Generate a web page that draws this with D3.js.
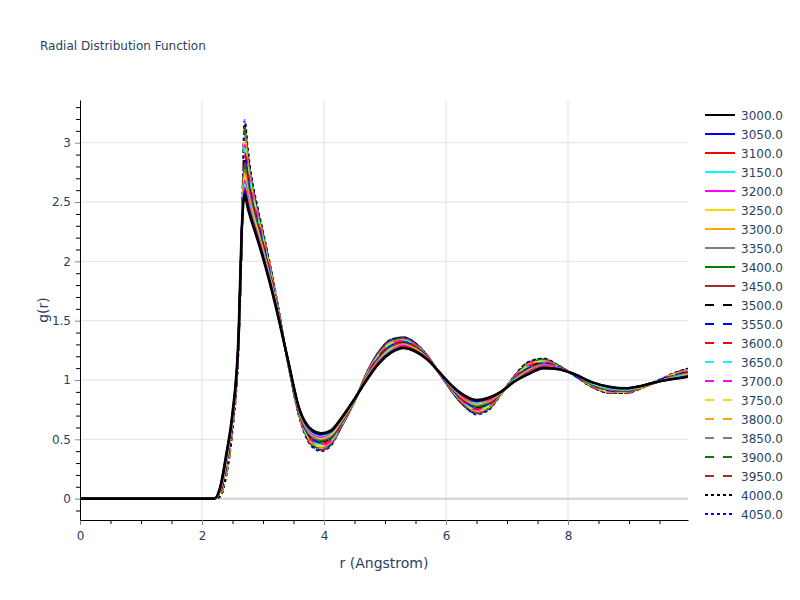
<!DOCTYPE html>
<html>
<head>
<meta charset="utf-8">
<script src="https://cdn.jsdelivr.net/npm/d3@7"></script>
<style>
  body { margin: 0; background: #fff; }
  text { font-family: "DejaVu Sans", verdana, arial, sans-serif; fill: #2a3f5f; }
</style>
</head>
<body>
<svg id="chart" width="800" height="600"></svg>
<script>
// r grid (Angstrom) shared by every curve
const rGrid = [0, 2.2, 2.3, 2.4, 2.5, 2.6, 2.65, 2.7, 2.75, 2.8, 2.9, 3.0, 3.2, 3.4, 3.6, 3.8, 3.95, 4.1, 4.3, 4.5, 4.7, 4.9, 5.1, 5.3, 5.5, 5.7, 5.9, 6.1, 6.3, 6.5, 6.7, 6.9, 7.1, 7.35, 7.6, 7.85, 8.1, 8.4, 8.7, 8.95, 9.2, 9.5, 9.75, 10.0]

const g3000 = [0,0,.10,.38,.72,1.38,2.25,2.56,2.45,2.36,2.20,2.03,1.64,1.19,.75,.58,.55,.57,.69,.84,1.00,1.14,1.23,1.27,1.24,1.17,1.06,.95,.87,.83,.85,.90,.98,1.05,1.10,1.09,1.05,.98,.94,.93,.95,.99,1.01,1.03]
const g3050 = [0,0,.10,.37,.71,1.38,2.25,2.59,2.47,2.38,2.21,2.04,1.65,1.19,.75,.57,.54,.56,.69,.84,1.00,1.14,1.24,1.27,1.24,1.17,1.06,.95,.87,.82,.85,.90,.98,1.05,1.10,1.09,1.05,.98,.94,.93,.95,.99,1.01,1.03]
const g3100 = [0,0,.09,.36,.71,1.37,2.24,2.62,2.50,2.40,2.23,2.05,1.65,1.19,.74,.57,.54,.56,.68,.84,1.01,1.15,1.24,1.28,1.25,1.17,1.06,.95,.86,.82,.84,.90,.98,1.06,1.11,1.09,1.05,.98,.94,.93,.95,.99,1.01,1.04]
const g3150 = [0,0,.09,.35,.70,1.37,2.24,2.65,2.52,2.42,2.24,2.06,1.66,1.19,.74,.56,.53,.55,.68,.84,1.01,1.15,1.25,1.28,1.25,1.17,1.06,.94,.86,.81,.84,.90,.99,1.06,1.11,1.09,1.05,.97,.93,.92,.95,.99,1.02,1.04]
const g3200 = [0,0,.08,.35,.69,1.36,2.23,2.68,2.55,2.43,2.25,2.07,1.66,1.19,.74,.55,.52,.55,.68,.84,1.01,1.16,1.25,1.29,1.25,1.18,1.06,.94,.85,.81,.83,.90,.99,1.07,1.12,1.10,1.05,.97,.93,.92,.95,.99,1.02,1.04]
const g3250 = [0,0,.08,.34,.69,1.36,2.23,2.71,2.57,2.45,2.27,2.08,1.67,1.19,.73,.55,.51,.54,.67,.84,1.01,1.16,1.26,1.29,1.26,1.18,1.06,.94,.85,.80,.83,.90,.99,1.07,1.12,1.10,1.05,.97,.93,.92,.95,.99,1.02,1.05]
const g3300 = [0,0,.08,.33,.68,1.36,2.22,2.74,2.59,2.47,2.28,2.09,1.67,1.18,.73,.54,.51,.53,.67,.83,1.02,1.17,1.26,1.30,1.26,1.18,1.06,.94,.84,.80,.82,.89,.99,1.08,1.12,1.10,1.05,.97,.93,.92,.94,.99,1.02,1.05]
const g3350 = [0,0,.07,.32,.67,1.35,2.22,2.77,2.62,2.49,2.29,2.10,1.68,1.18,.73,.53,.50,.53,.67,.83,1.02,1.17,1.27,1.30,1.26,1.18,1.06,.93,.84,.79,.82,.89,.99,1.08,1.13,1.10,1.05,.97,.92,.92,.94,.99,1.03,1.05]
const g3400 = [0,0,.07,.31,.67,1.35,2.21,2.80,2.64,2.51,2.31,2.11,1.68,1.18,.72,.53,.49,.52,.66,.83,1.02,1.18,1.27,1.30,1.27,1.18,1.06,.93,.84,.78,.81,.89,1.00,1.09,1.13,1.10,1.05,.96,.92,.91,.94,.99,1.03,1.06]
const g3450 = [0,0,.07,.30,.66,1.35,2.21,2.83,2.66,2.53,2.32,2.12,1.69,1.18,.72,.52,.49,.51,.66,.83,1.03,1.18,1.28,1.31,1.27,1.18,1.06,.93,.83,.78,.81,.89,1.00,1.09,1.13,1.10,1.05,.96,.92,.91,.94,.99,1.03,1.06]
const g3500 = [0,0,.06,.29,.65,1.34,2.20,2.86,2.69,2.55,2.33,2.13,1.69,1.18,.72,.51,.48,.51,.66,.83,1.03,1.19,1.28,1.31,1.27,1.18,1.06,.93,.83,.77,.80,.89,1.00,1.10,1.14,1.10,1.05,.96,.92,.91,.94,.99,1.03,1.06]
const g3550 = [0,0,.06,.29,.65,1.34,2.20,2.89,2.71,2.56,2.35,2.15,1.70,1.18,.71,.51,.47,.50,.65,.83,1.03,1.19,1.29,1.32,1.28,1.19,1.05,.92,.82,.77,.80,.89,1.00,1.10,1.14,1.11,1.04,.96,.91,.91,.94,1.00,1.04,1.07]
const g3600 = [0,0,.05,.28,.64,1.33,2.19,2.92,2.74,2.58,2.36,2.16,1.70,1.18,.71,.50,.46,.50,.65,.83,1.03,1.20,1.29,1.32,1.28,1.19,1.05,.92,.82,.76,.79,.89,1.00,1.11,1.15,1.11,1.04,.96,.91,.91,.94,1.00,1.04,1.07]
const g3650 = [0,0,.05,.27,.63,1.33,2.19,2.95,2.76,2.60,2.37,2.17,1.71,1.18,.71,.49,.46,.49,.65,.83,1.04,1.20,1.30,1.33,1.28,1.19,1.05,.92,.81,.76,.79,.89,1.00,1.11,1.15,1.11,1.04,.96,.91,.91,.94,1.00,1.04,1.07]
const g3700 = [0,0,.05,.26,.63,1.33,2.18,2.98,2.78,2.62,2.39,2.18,1.71,1.18,.70,.49,.45,.48,.64,.83,1.04,1.21,1.30,1.33,1.29,1.19,1.05,.92,.81,.75,.78,.89,1.01,1.12,1.15,1.11,1.04,.95,.91,.90,.94,1.00,1.04,1.08]
const g3750 = [0,0,.04,.25,.62,1.32,2.18,3.01,2.81,2.64,2.40,2.19,1.72,1.18,.70,.48,.44,.48,.64,.83,1.04,1.21,1.31,1.33,1.29,1.19,1.05,.91,.81,.74,.78,.89,1.01,1.12,1.16,1.11,1.04,.95,.90,.90,.94,1.00,1.05,1.08]
const g3800 = [0,0,.04,.24,.61,1.32,2.17,3.04,2.83,2.66,2.41,2.20,1.72,1.17,.70,.47,.44,.47,.64,.82,1.05,1.22,1.31,1.34,1.29,1.19,1.05,.91,.80,.74,.77,.88,1.01,1.13,1.16,1.11,1.04,.95,.90,.90,.93,1.00,1.05,1.08]
const g3850 = [0,0,.04,.23,.61,1.32,2.17,3.07,2.85,2.68,2.43,2.21,1.73,1.17,.69,.47,.43,.46,.63,.82,1.05,1.22,1.32,1.34,1.30,1.19,1.05,.91,.80,.73,.77,.88,1.01,1.13,1.16,1.11,1.04,.95,.90,.90,.93,1.00,1.05,1.09]
const g3900 = [0,0,.03,.23,.60,1.31,2.16,3.10,2.88,2.69,2.44,2.22,1.73,1.17,.69,.46,.42,.46,.63,.82,1.05,1.23,1.32,1.35,1.30,1.20,1.05,.91,.79,.73,.76,.88,1.01,1.14,1.17,1.12,1.04,.95,.90,.90,.93,1.00,1.05,1.09]
const g3950 = [0,0,.03,.22,.59,1.31,2.16,3.13,2.90,2.71,2.45,2.23,1.74,1.17,.69,.45,.41,.45,.63,.82,1.05,1.23,1.33,1.35,1.30,1.20,1.05,.90,.79,.72,.76,.88,1.02,1.14,1.17,1.12,1.04,.94,.89,.89,.93,1.00,1.06,1.09]
const g4000 = [0,0,.02,.21,.59,1.30,2.15,3.16,2.93,2.73,2.47,2.24,1.75,1.17,.68,.45,.41,.45,.62,.82,1.06,1.24,1.34,1.36,1.31,1.20,1.05,.90,.78,.72,.75,.88,1.02,1.15,1.18,1.12,1.04,.94,.89,.89,.93,1.00,1.06,1.10]
const g4050 = [0,0,.02,.20,.58,1.30,2.15,3.19,2.95,2.75,2.48,2.25,1.75,1.17,.68,.44,.40,.44,.62,.82,1.06,1.24,1.34,1.36,1.31,1.20,1.05,.90,.78,.71,.75,.88,1.02,1.15,1.18,1.12,1.04,.94,.89,.89,.93,1.00,1.06,1.10]

const labels = ['3000.0','3050.0','3100.0','3150.0','3200.0','3250.0','3300.0','3350.0','3400.0','3450.0','3500.0',
  '3550.0','3600.0','3650.0','3700.0','3750.0','3800.0','3850.0','3900.0','3950.0','4000.0','4050.0']
const palette = ['black','blue','red','cyan','magenta','gold','orange','gray','green','brown']
const xTicks = [0, 2, 4, 6, 8]
const yTicks = [0, 0.5, 1, 1.5, 2, 2.5, 3]

const series = [g3000,g3050,g3100,g3150,g3200,g3250,g3300,g3350,g3400,g3450,g3500,
  g3550,g3600,g3650,g3700,g3750,g3800,g3850,g3900,g3950,g4000,g4050]

// solid for the first ten, dashed for the next ten, dotted for the last two
function dashOf(i){
  if (i < 10) return null
  if (i < 20) return '9,9'
  return '3,3'
}
function colorOf(i){ return palette[i % 10] }

const svg = d3.select('#chart')
const plot = {left: 80, right: 688, top: 100, bottom: 520}
const font = '"DejaVu Sans", verdana, arial, sans-serif'

const x = d3.scaleLinear().domain([0, 9.967]).range([plot.left, plot.right])
const y = d3.scaleLinear().domain([-0.18, 3.36]).range([plot.bottom, plot.top])

svg.append('text')
  .attr('x', 40).attr('y', 50)
  .style('font-size', '12px')
  .text('Radial Distribution Function')

// grid
var grid = svg.append('g')
grid.selectAll('.gx').data(xTicks.filter(d => d > 0)).enter().append('line')
  .attr('x1', d => x(d)).attr('x2', d => x(d))
  .attr('y1', plot.top).attr('y2', plot.bottom)
  .attr('stroke', '#e1e1e1').attr('stroke-width', 1)
grid.selectAll('.gy').data(yTicks.filter(d => d != 0)).enter().append('line')
  .attr('x1', plot.left).attr('x2', plot.right)
  .attr('y1', d => y(d)).attr('y2', d => y(d))
  .attr('stroke', '#e1e1e1').attr('stroke-width', 1)
// zero line
grid.append('line')
  .attr('x1', plot.left).attr('x2', plot.right)
  .attr('y1', y(0)).attr('y2', y(0))
  .attr('stroke', '#d0d0d0').attr('stroke-width', 2)

// curves
svg.append('clipPath').attr('id', 'clip').append('rect')
  .attr('x', plot.left).attr('y', plot.top)
  .attr('width', plot.right - plot.left).attr('height', plot.bottom - plot.top)

var line = d3.line()
  .x((d, i) => x(rGrid[i]))
  .y(d => y(d))
  .curve(d3.curveMonotoneX)

var curves = svg.append('g').attr('clip-path', 'url(#clip)')
var order = d3.range(series.length).reverse()
order.forEach(function(i){
  curves.append('path')
    .attr('d', line(series[i]))
    .attr('fill', 'none')
    .attr('stroke', colorOf(i))
    .attr('stroke-width', i == 0 ? 2.6 : 2)
    .attr('stroke-dasharray', dashOf(i))
    .attr('stroke-linejoin', 'round')
})

// axes
var xMinor = d3.range(0, 10, 0.5).filter(d => d % 2 != 0)
var yMinor = d3.range(-1, 34).map(d => d / 10).filter(d => Math.round(d * 10) % 5 != 0)

var xAxis = svg.append('g').attr('transform', 'translate(0,' + plot.bottom + ')')
xAxis.call(d3.axisBottom(x).tickValues(xTicks).tickFormat(d3.format('d')).tickSize(5).tickSizeOuter(0).tickPadding(6))
var xMin = svg.append('g').attr('transform', 'translate(0,' + plot.bottom + ')')
xMin.call(d3.axisBottom(x).tickValues(xMinor).tickFormat('').tickSize(4).tickSizeOuter(0))

var yAxis = svg.append('g').attr('transform', 'translate(' + plot.left + ',0)')
yAxis.call(d3.axisLeft(y).tickValues(yTicks).tickFormat(d3.format('~g')).tickSize(5).tickSizeOuter(0).tickPadding(4))
var yMin = svg.append('g').attr('transform', 'translate(' + plot.left + ',0)')
yMin.call(d3.axisLeft(y).tickValues(yMinor).tickFormat('').tickSize(4).tickSizeOuter(0))

;[xAxis, yAxis].forEach(function(a){
  a.selectAll('.tick line').attr('stroke', '#888')
  a.selectAll('.tick text').style('font-size', '12px').style('fill', '#2a3f5f')
    .style('font-family', font)
  a.select('.domain').attr('stroke', '#000').attr('stroke-width', 1)
})
;[xMin, yMin].forEach(function(a){
  a.selectAll('.tick line').attr('stroke', '#000')
  a.select('.domain').remove()
})

svg.append('text')
  .attr('x', (plot.left + plot.right) / 2).attr('y', 568)
  .attr('text-anchor', 'middle')
  .style('font-size', '14px')
  .text('r (Angstrom)')
svg.append('text')
  .attr('transform', 'translate(48,' + ((plot.top + plot.bottom) / 2) + ') rotate(-90)')
  .attr('text-anchor', 'middle')
  .style('font-size', '14px')
  .text('g(r)')

// legend
var legend = svg.append('g')
labels.forEach(function(lab, i){
  var ly = 115 + i * 19
  legend.append('line')
    .attr('x1', 705).attr('x2', 735)
    .attr('y1', ly).attr('y2', ly)
    .attr('stroke', colorOf(i))
    .attr('stroke-width', 2)
    .attr('stroke-dasharray', dashOf(i))
  legend.append('text')
    .attr('x', 741).attr('y', ly + 4.5)
    .style('font-size', '12px')
    .text(lab)
})
</script>
</body>
</html>
